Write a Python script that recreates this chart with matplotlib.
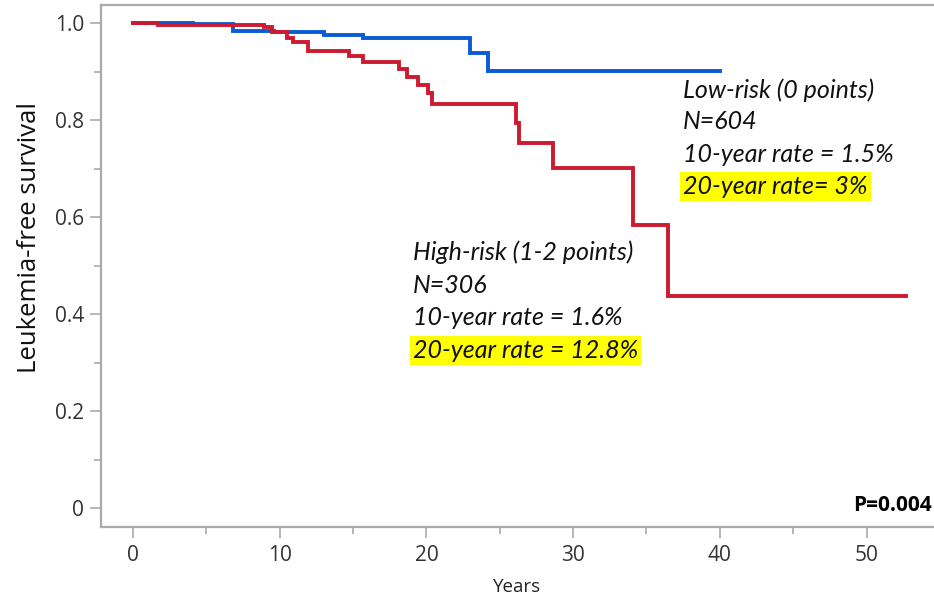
import matplotlib
matplotlib.use("Agg")
import matplotlib.pyplot as plt
from matplotlib.ticker import MultipleLocator, FixedLocator, FixedFormatter

# ---- data ----
low_t = [0, 4.1, 6.8, 9.6, 13.0, 15.65, 23.0, 24.2, 40.0]
low_s = [1.0, 0.998, 0.985, 0.982, 0.976, 0.969, 0.938, 0.902, 0.902]

high_t = [0, 1.7, 8.9, 9.5, 10.5, 10.9, 11.9, 14.7, 15.65, 18.1, 18.7, 19.4,
          20.1, 20.4, 26.1, 26.3, 28.6, 34.1, 36.5, 52.7]
high_s = [1.0, 0.996, 0.992, 0.982, 0.969, 0.961, 0.943, 0.933, 0.921, 0.906,
          0.890, 0.872, 0.856, 0.833, 0.795, 0.754, 0.702, 0.584, 0.438, 0.438]

y_ticks = [0, 0.2, 0.4, 0.6, 0.8, 1.0]
y_tick_labels = ["0", "0.2", "0.4", "0.6", "0.8", "1.0"]
x_ticks = [0, 10, 20, 30, 40, 50]

low_lines = ["Low-risk (0 points)", "N=604", "10-year rate = 1.5%", "20-year rate= 3%"]
high_lines = ["High-risk (1-2 points)", "N=306", "10-year rate = 1.6%", "20-year rate = 12.8%"]
p_text = "P=0.004"

BLUE = "#0a5bd6"
RED = "#cc1a30"
GRAY = "#aaaaaa"

plt.rcParams["font.family"] = ["Open Sans", "DejaVu Sans"]

fig = plt.figure(figsize=(9.34, 5.96), dpi=100)
ax = fig.add_axes([101/934, 69/596, 1 - 101/934, (527 - 5)/596])

ax.step(low_t, low_s, where="post", color=BLUE, lw=2.8, solid_joinstyle="miter")
ax.step(high_t, high_s, where="post", color=RED, lw=2.8, solid_joinstyle="miter")

ax.set_xlim(-2.18, 54.6)
ax.set_ylim(-0.039, 1.038)

for s in ["left", "bottom", "top"]:
    ax.spines[s].set_color(GRAY)
    ax.spines[s].set_linewidth(1.6)
ax.spines["right"].set_visible(False)

ax.xaxis.set_major_locator(FixedLocator(x_ticks))
ax.xaxis.set_minor_locator(MultipleLocator(5))
ax.yaxis.set_major_locator(FixedLocator(y_ticks))
ax.yaxis.set_major_formatter(FixedFormatter(y_tick_labels))
ax.yaxis.set_minor_locator(MultipleLocator(0.1))

ax.tick_params(axis="both", which="major", direction="out", length=8, width=1.2,
               color=GRAY, labelsize=15, labelcolor="#333333")
ax.tick_params(axis="both", which="minor", direction="out", length=5, width=1.2,
               color=GRAY)
ax.tick_params(axis="y", pad=4)
ax.tick_params(axis="x", pad=5)

ax.set_ylabel("Leukemia-free survival", fontsize=18.5, color="#111111")
ax.yaxis.set_label_coords(-0.071, 0.555)
ax.set_xlabel("Years", fontsize=13.5, color="#222222", labelpad=8.5)

ann_font = ["Lato", "DejaVu Sans"]
ann_size = 18
low_x = 37.5
low_y = [0.863, 0.797, 0.729, 0.663]
high_x = 19.1
high_y = [0.528, 0.460, 0.394, 0.326]
hl = dict(boxstyle="square,pad=0.12", facecolor="#ffff00", edgecolor="none")
for i, txt in enumerate(low_lines):
    kw = {"bbox": hl} if i == 3 else {}
    ax.text(low_x, low_y[i], txt, fontsize=ann_size, style="italic", family=ann_font,
            va="center", ha="left", color="#111111", **kw)
for i, txt in enumerate(high_lines):
    kw = {"bbox": hl} if i == 3 else {}
    ax.text(high_x, high_y[i], txt, fontsize=ann_size, style="italic", family=ann_font,
            va="center", ha="left", color="#111111", **kw)

ax.text(0.998, 0.022, p_text, transform=ax.transAxes, ha="right", va="bottom",
        fontsize=15, fontweight="bold", color="#000000")

fig.savefig("out.png", dpi=100)
